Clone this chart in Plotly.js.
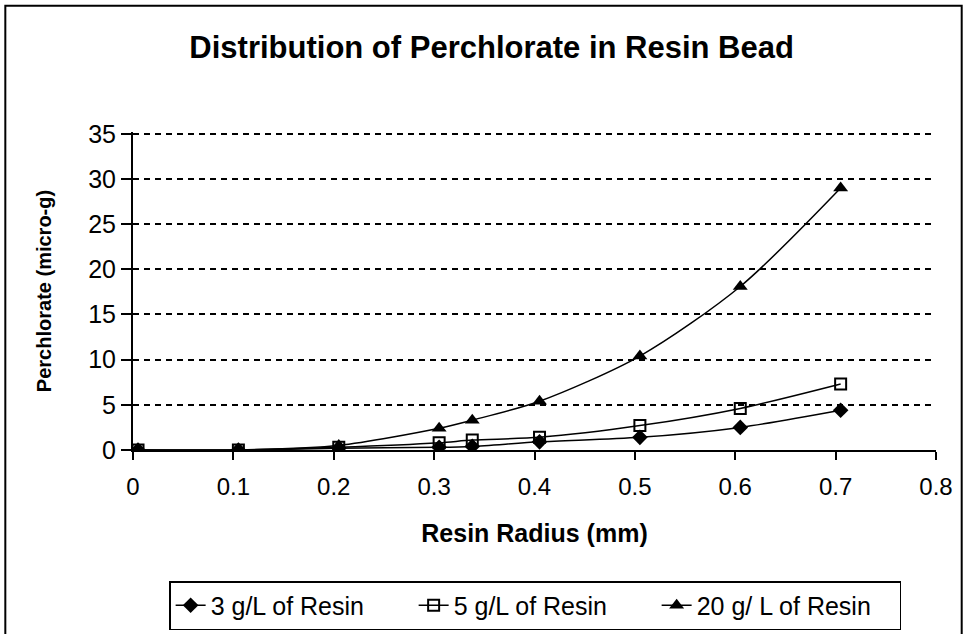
<!DOCTYPE html>
<html>
<head>
<meta charset="utf-8">
<script src="https://cdn.plot.ly/plotly-3.0.1.min.js"></script>
<style>html,body{margin:0;padding:0;background:#fff;}#chart{width:964px;height:634px;}</style>
</head>
<body>
<div id="chart"></div>
<script>
var radius = [0.005, 0.105, 0.205, 0.305, 0.338, 0.405, 0.505, 0.605, 0.705];
var resin3 = [0, 0, 0.2, 0.3, 0.4, 0.9, 1.4, 2.5, 4.4];
var resin5 = [0, 0, 0.3, 0.8, 1.1, 1.4, 2.7, 4.6, 7.3];
var resin20 = [0, 0, 0.5, 2.4, 3.3, 5.4, 10.4, 18.1, 29.0];
var seriesNames = ["3 g/L of Resin", "5 g/L of Resin", "20 g/ L of Resin"];
var xTicks = [0, 0.1, 0.2, 0.3, 0.4, 0.5, 0.6, 0.7, 0.8];
var xTickText = ["0", "0.1", "0.2", "0.3", "0.4", "0.5", "0.6", "0.7", "0.8"];
var yTicks = [0, 5, 10, 15, 20, 25, 30, 35];

var lineStyle = {color: "#000", width: 1.5, shape: "spline", smoothing: 0.8};
var traces = [
  {x: radius, y: resin3, name: seriesNames[0], mode: "lines+markers", line: lineStyle,
   marker: {symbol: "diamond", size: 12, color: "#000"}},
  {x: radius, y: resin5, name: seriesNames[1], mode: "lines+markers", line: lineStyle,
   marker: {symbol: "square-open", size: 11, color: "#000", line: {width: 2, color: "#000"}}},
  {x: radius, y: resin20, name: seriesNames[2], mode: "lines+markers", line: lineStyle,
   marker: {symbol: "triangle-up", size: 13, color: "#000"}}
];

var font = "Liberation Sans, Arial, sans-serif";
var layout = {
  width: 964, height: 634,
  margin: {l: 133, r: 28, t: 132, b: 184, autoexpand: false},
  paper_bgcolor: "#fff", plot_bgcolor: "#fff",
  showlegend: true,
  title: {text: "Distribution of Perchlorate in Resin Bead", x: 0.51, xanchor: "center",
          y: 0.926, yanchor: "middle",
          font: {family: font, size: 31, color: "#000", weight: "bold"}},
  xaxis: {range: [0, 0.8], tickvals: xTicks, ticktext: xTickText, showgrid: false, zeroline: false,
          showline: true, linecolor: "#000", linewidth: 2, ticks: "outside", ticklen: 8, tickwidth: 2,
          tickcolor: "#000", ticklabelstandoff: 6, tickfont: {family: font, size: 24, color: "#000"},
          title: {text: "<b>Resin Radius (mm)</b>", font: {family: font, size: 25, color: "#000"}, standoff: 26}},
  yaxis: {range: [0, 35.2], tickvals: yTicks, showgrid: true, gridcolor: "#000",
          griddash: "6px,5px", gridwidth: 2,
          zeroline: false, showline: true, linecolor: "#000", linewidth: 2, ticks: "outside", ticklen: 10,
          tickwidth: 2, tickcolor: "#000", tickfont: {family: font, size: 25, color: "#000"},
          title: {text: "<b>Perchlorate (micro-g)</b>", font: {family: font, size: 20, color: "#000"}, standoff: 31}},
  legend: {orientation: "h", x: 0.045, xanchor: "left", y: -0.412, yanchor: "top",
           bordercolor: "#000", borderwidth: 1.5, bgcolor: "#fff", entrywidth: 198,
           font: {family: font, size: 25, color: "#000"}, itemwidth: 30, tracegroupgap: 0},
  shapes: [{type: "rect", xref: "paper", yref: "paper", x0: -0.159, x1: 1.032, y0: -0.7, y1: 1.397,
            line: {color: "#000", width: 2}, fillcolor: "rgba(0,0,0,0)", layer: "below"}]
};
Plotly.newPlot("chart", traces, layout, {displayModeBar: false, staticPlot: true});
</script>
</body>
</html>
